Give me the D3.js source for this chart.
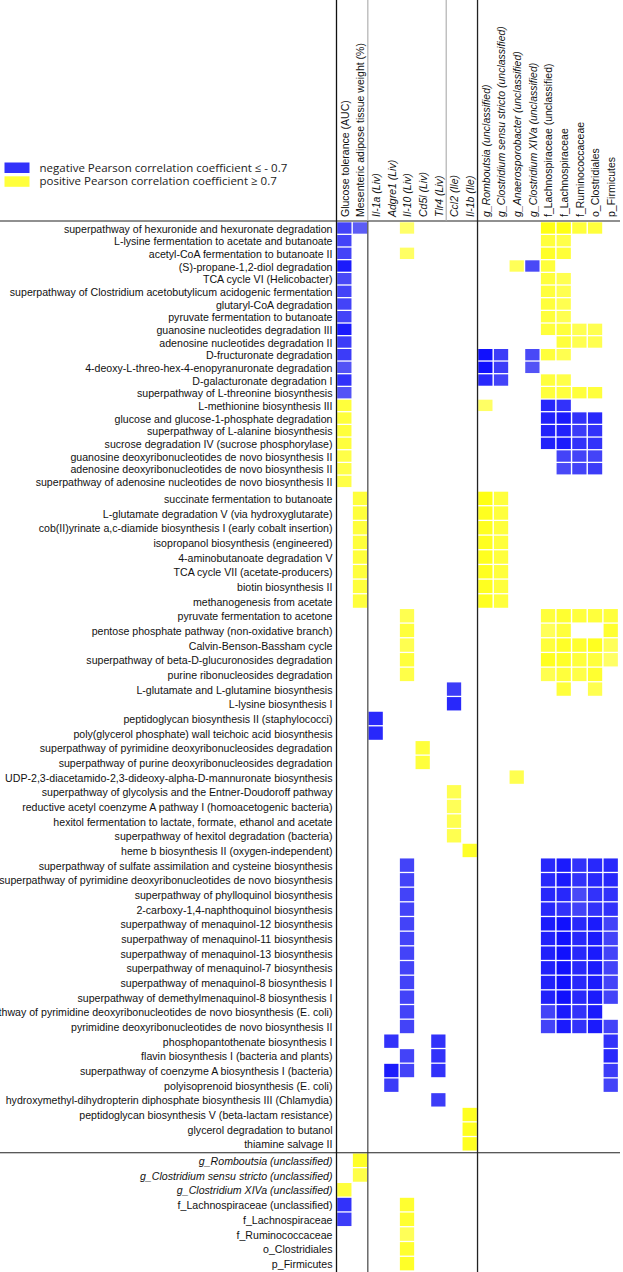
<!DOCTYPE html>
<html><head><meta charset="utf-8">
<script src="https://cdn.jsdelivr.net/npm/d3@7/dist/d3.min.js"></script>
<style>body{margin:0;background:#fff}svg{display:block}</style>
</head><body>
<svg id="chart" width="623" height="1272"></svg>
<script>
// ---- data ----
const columns = [
  "Glucose tolerance (AUC)", "Mesenteric adipose tissue weight (%)",
  "Il-1a (Liv)", "Adgre1 (Liv)", "Il-10 (Liv)", "Cd5l (Liv)", "Tlr4 (Liv)",
  "Ccl2 (Ile)", "Il-1b (Ile)",
  "g_Romboutsia (unclassified)", "g_Clostridium sensu stricto (unclassified)",
  "g_Anaerosporobacter (unclassified)", "g_Clostridium XIVa (unclassified)",
  "f_Lachnospiraceae (unclassified)", "f_Lachnospiraceae", "f_Ruminococcaceae",
  "o_Clostridiales", "p_Firmicutes"
];
const columnItalic = [false,false,true,true,true,true,true,true,true,true,true,true,true,false,false,false,false,false];

const pathways = [
  "superpathway of hexuronide and hexuronate degradation",
  "L-lysine fermentation to acetate and butanoate",
  "acetyl-CoA fermentation to butanoate II",
  "(S)-propane-1,2-diol degradation",
  "TCA cycle VI (Helicobacter)",
  "superpathway of Clostridium acetobutylicum acidogenic fermentation",
  "glutaryl-CoA degradation",
  "pyruvate fermentation to butanoate",
  "guanosine nucleotides degradation III",
  "adenosine nucleotides degradation II",
  "D-fructuronate degradation",
  "4-deoxy-L-threo-hex-4-enopyranuronate degradation",
  "D-galacturonate degradation I",
  "superpathway of L-threonine biosynthesis",
  "L-methionine biosynthesis III",
  "glucose and glucose-1-phosphate degradation",
  "superpathway of L-alanine biosynthesis",
  "sucrose degradation IV (sucrose phosphorylase)",
  "guanosine deoxyribonucleotides de novo biosynthesis II",
  "adenosine deoxyribonucleotides de novo biosynthesis II",
  "superpathway of adenosine nucleotides de novo biosynthesis II",
  "succinate fermentation to butanoate",
  "L-glutamate degradation V (via hydroxyglutarate)",
  "cob(II)yrinate a,c-diamide biosynthesis I (early cobalt insertion)",
  "isopropanol biosynthesis (engineered)",
  "4-aminobutanoate degradation V",
  "TCA cycle VII (acetate-producers)",
  "biotin biosynthesis II",
  "methanogenesis from acetate",
  "pyruvate fermentation to acetone",
  "pentose phosphate pathway (non-oxidative branch)",
  "Calvin-Benson-Bassham cycle",
  "superpathway of beta-D-glucuronosides degradation",
  "purine ribonucleosides degradation",
  "L-glutamate and L-glutamine biosynthesis",
  "L-lysine biosynthesis I",
  "peptidoglycan biosynthesis II (staphylococci)",
  "poly(glycerol phosphate) wall teichoic acid biosynthesis",
  "superpathway of pyrimidine deoxyribonucleosides degradation",
  "superpathway of purine deoxyribonucleosides degradation",
  "UDP-2,3-diacetamido-2,3-dideoxy-alpha-D-mannuronate biosynthesis",
  "superpathway of glycolysis and the Entner-Doudoroff pathway",
  "reductive acetyl coenzyme A pathway I (homoacetogenic bacteria)",
  "hexitol fermentation to lactate, formate, ethanol and acetate",
  "superpathway of hexitol degradation (bacteria)",
  "heme b biosynthesis II (oxygen-independent)",
  "superpathway of sulfate assimilation and cysteine biosynthesis",
  "superpathway of pyrimidine deoxyribonucleotides de novo biosynthesis",
  "superpathway of phylloquinol biosynthesis",
  "2-carboxy-1,4-naphthoquinol biosynthesis",
  "superpathway of menaquinol-12 biosynthesis",
  "superpathway of menaquinol-11 biosynthesis",
  "superpathway of menaquinol-13 biosynthesis",
  "superpathway of menaquinol-7 biosynthesis",
  "superpathway of menaquinol-8 biosynthesis I",
  "superpathway of demethylmenaquinol-8 biosynthesis I",
  "superpathway of pyrimidine deoxyribonucleotides de novo biosynthesis (E. coli)",
  "pyrimidine deoxyribonucleotides de novo biosynthesis II",
  "phosphopantothenate biosynthesis I",
  "flavin biosynthesis I (bacteria and plants)",
  "superpathway of coenzyme A biosynthesis I (bacteria)",
  "polyisoprenoid biosynthesis (E. coli)",
  "hydroxymethyl-dihydropterin diphosphate biosynthesis III (Chlamydia)",
  "peptidoglycan biosynthesis V (beta-lactam resistance)",
  "glycerol degradation to butanol",
  "thiamine salvage II"
];

// sparse correlations per pathway row: [columnIndex, r]
const pathwayCorr = [
  [[0,-0.8],[1,-0.72],[4,0.74],[13,0.95],[14,0.95],[15,0.85],[16,0.85]],
  [[0,-0.8],[13,0.85],[14,0.82]],
  [[0,-0.8],[4,0.75],[13,0.9],[14,0.86]],
  [[0,-0.92],[11,0.78],[12,-0.78],[13,0.85]],
  [[0,-0.78],[13,0.85],[14,0.8]],
  [[0,-0.8],[13,0.85],[14,0.8]],
  [[0,-0.8],[13,0.85],[14,0.8]],
  [[0,-0.8],[13,0.85],[14,0.8]],
  [[0,-0.92],[13,0.85],[14,0.85],[15,0.8],[16,0.8]],
  [[0,-0.82],[14,0.85],[15,0.8],[16,0.8]],
  [[0,-0.82],[9,-0.95],[10,-0.82],[12,-0.78],[13,0.85],[14,0.8]],
  [[0,-0.75],[9,-0.95],[10,-0.82],[12,-0.75]],
  [[0,-0.85],[9,-0.88],[10,-0.8],[13,0.85],[14,0.82]],
  [[0,-0.75],[13,0.85],[14,0.85],[15,0.85],[16,0.85]],
  [[0,0.85],[9,0.75],[13,-0.88],[14,-0.85]],
  [[0,0.85],[13,-0.9],[14,-0.92],[15,-0.85],[16,-0.88]],
  [[0,0.85],[13,-0.9],[14,-0.9],[15,-0.82],[16,-0.85]],
  [[0,0.85],[13,-0.9],[14,-0.92],[15,-0.85],[16,-0.85]],
  [[0,0.82],[14,-0.8],[15,-0.8],[16,-0.8]],
  [[0,0.82],[14,-0.78],[15,-0.8],[16,-0.82]],
  [[0,0.82]],
  [[1,0.85],[9,0.95],[10,0.85]],
  [[1,0.85],[9,0.92],[10,0.85]],
  [[1,0.85],[9,0.92],[10,0.85]],
  [[1,0.85],[9,0.92],[10,0.85]],
  [[1,0.85],[9,0.92],[10,0.85]],
  [[1,0.85],[9,0.92],[10,0.85]],
  [[1,0.85],[9,0.92],[10,0.85]],
  [[1,0.85],[9,0.92],[10,0.85]],
  [[4,0.8],[13,0.85],[14,0.88],[15,0.85],[16,0.85],[17,0.85]],
  [[4,0.85],[13,0.78],[14,0.85],[17,0.88]],
  [[4,0.8],[13,0.85],[14,0.9],[15,0.88],[16,0.92],[17,0.78]],
  [[4,0.85],[13,0.92],[14,0.9],[15,0.85],[16,0.85],[17,0.75]],
  [[4,0.82],[13,0.8],[14,0.85],[15,0.82],[16,0.88]],
  [[7,-0.82],[14,0.85],[16,0.8]],
  [[7,-0.88]],
  [[2,-0.88]],
  [[2,-0.88]],
  [[5,0.85]],
  [[5,0.85]],
  [[11,0.8]],
  [[7,0.8]],
  [[7,0.78]],
  [[7,0.8]],
  [[7,0.8]],
  [[8,0.9]],
  [[4,-0.8],[13,-0.88],[14,-0.92],[15,-0.85],[16,-0.88],[17,-0.88]],
  [[4,-0.8],[13,-0.88],[14,-0.92],[15,-0.85],[16,-0.88],[17,-0.88]],
  [[4,-0.8],[13,-0.88],[14,-0.88],[15,-0.78],[16,-0.85],[17,-0.85]],
  [[4,-0.8],[13,-0.88],[14,-0.85],[15,-0.8],[16,-0.85],[17,-0.85]],
  [[4,-0.8],[13,-0.92],[14,-0.95],[15,-0.88],[16,-0.92],[17,-0.8]],
  [[4,-0.8],[13,-0.9],[14,-0.95],[15,-0.88],[16,-0.92],[17,-0.8]],
  [[4,-0.8],[13,-0.9],[14,-0.95],[15,-0.88],[16,-0.92],[17,-0.8]],
  [[4,-0.8],[13,-0.9],[14,-0.95],[15,-0.88],[16,-0.92],[17,-0.8]],
  [[4,-0.8],[13,-0.9],[14,-0.95],[15,-0.88],[16,-0.92],[17,-0.8]],
  [[4,-0.8],[13,-0.9],[14,-0.95],[15,-0.88],[16,-0.92],[17,-0.8]],
  [[4,-0.8],[13,-0.8],[14,-0.92],[15,-0.85],[16,-0.92]],
  [[4,-0.8],[13,-0.8],[14,-0.92],[15,-0.85],[16,-0.92],[17,-0.8]],
  [[3,-0.85],[6,-0.85],[17,-0.85]],
  [[4,-0.8],[6,-0.85],[17,-0.88]],
  [[3,-0.92],[4,-0.8],[6,-0.85],[17,-0.82]],
  [[3,-0.82],[17,-0.8]],
  [[6,-0.82]],
  [[8,0.92]],
  [[8,0.92]],
  [[8,0.92]]
];

const taxa = [
  "g_Romboutsia (unclassified)",
  "g_Clostridium sensu stricto (unclassified)",
  "g_Clostridium XIVa (unclassified)",
  "f_Lachnospiraceae (unclassified)",
  "f_Lachnospiraceae",
  "f_Ruminococcaceae",
  "o_Clostridiales",
  "p_Firmicutes"
];
const taxaItalic = [true,true,true,false,false,false,false,false];
const taxaCorr = [
  [[1,0.9]],
  [[1,0.82]],
  [[0,0.85]],
  [[0,-0.85],[4,0.88]],
  [[0,-0.82],[4,0.88]],
  [[4,0.78]],
  [[4,0.88]],
  [[4,0.9]]
];

const legendItems = [
  {label: "negative Pearson correlation coefficient \u2264 - 0.7", r: -0.85},
  {label: "positive Pearson correlation coefficient \u2265  0.7", r: 0.85}
];

// ---- drawing ----
const svg = d3.select("#chart");
const W = 623, H = 1272;
const labelFont = "'Liberation Sans', Arial, sans-serif";

const x = d3.scaleBand().domain(d3.range(columns.length)).range([336.5, 336.5 + 18 * 15.67]);
const yA = d3.scaleBand().domain(d3.range(0, 21)).range([221.7, 221.7 + 21 * 12.67]);
const yB = d3.scaleBand().domain(d3.range(21, pathways.length)).range([491.1, 491.1 + 45 * 14.67]);
const yT = d3.scaleBand().domain(d3.range(taxa.length)).range([1152.9, 1152.9 + 8 * 14.77]);

function rowScale(i) { return i < 21 ? yA : yB; }

const negColor = d3.scaleLinear().domain([0.7, 1]).range(["#6464f4", "#0000ff"]).interpolate(d3.interpolateRgb).clamp(true);
const posColor = d3.scaleLinear().domain([0.7, 1]).range(["#ffff78", "#ffff00"]).interpolate(d3.interpolateRgb).clamp(true);
const color = r => r < 0 ? negColor(-r) : posColor(r);

// rows
const rows = [];
pathways.forEach((name, i) => {
  const s = rowScale(i);
  rows.push({name, italic: false, y: s(i), h: s.bandwidth(), cells: pathwayCorr[i]});
});
taxa.forEach((name, i) => {
  rows.push({name, italic: taxaItalic[i], y: yT(i), h: yT.bandwidth(), cells: taxaCorr[i]});
});

const cellData = [];
rows.forEach(r => r.cells.forEach(([c, v]) => cellData.push({y: r.y, h: r.h, c, v})));

svg.append("g").selectAll("rect").data(cellData).join("rect")
  .attr("x", d => x(d.c) + 0.7)
  .attr("width", x.bandwidth() - 1.4)
  .attr("y", d => d.y + 0.6)
  .attr("height", d => d.h - 1.3)
  .attr("fill", d => color(d.v));

// row labels
svg.append("g").selectAll("text").data(rows).join("text")
  .attr("x", 332.5)
  .attr("y", d => d.y + d.h / 2 + 0.5)
  .attr("text-anchor", "end")
  .attr("dominant-baseline", "central")
  .attr("font-family", labelFont)
  .attr("font-size", "10.6px")
  .attr("font-style", d => d.italic ? "italic" : "normal")
  .attr("fill", "#111")
  .text(d => d.name);

// column labels
svg.append("g").selectAll("text").data(columns).join("text")
  .attr("transform", (d, i) => `translate(${x(i) + x.bandwidth() / 2 + 0.5},217) rotate(-90)`)
  .attr("dy", "0.36em")
  .attr("font-family", labelFont)
  .attr("font-size", "10.5px")
  .attr("font-style", (d, i) => columnItalic[i] ? "italic" : "normal")
  .attr("fill", "#111")
  .text(d => d);

// grid lines
const lines = svg.append("g").attr("fill", "none");
const topY = 221, sepY = 1152.7;
lines.append("line").attr("x1", 0).attr("x2", 620).attr("y1", topY).attr("y2", topY).attr("stroke", "#222").attr("stroke-width", 1.1);
lines.append("line").attr("x1", 0).attr("x2", 620).attr("y1", sepY).attr("y2", sepY).attr("stroke", "#222").attr("stroke-width", 1.1);
const xl = i => x(i); // left boundary of a column
lines.append("line").attr("x1", xl(0)).attr("x2", xl(0)).attr("y1", 0).attr("y2", H).attr("stroke", "#111").attr("stroke-width", 1.3);
lines.append("line").attr("x1", xl(2)).attr("x2", xl(2)).attr("y1", 0).attr("y2", topY).attr("stroke", "#aaa").attr("stroke-width", 1.1);
lines.append("line").attr("x1", xl(2)).attr("x2", xl(2)).attr("y1", topY).attr("y2", H).attr("stroke", "#333").attr("stroke-width", 1.1);
lines.append("line").attr("x1", xl(7)).attr("x2", xl(7)).attr("y1", 0).attr("y2", topY).attr("stroke", "#aaa").attr("stroke-width", 1.1);
lines.append("line").attr("x1", xl(9)).attr("x2", xl(9)).attr("y1", 0).attr("y2", H).attr("stroke", "#222").attr("stroke-width", 1.3);

// legend
const lg = svg.append("g");
legendItems.forEach((d, i) => {
  lg.append("rect").attr("x", 4.5).attr("y", 162.5 + i * 13.8).attr("width", 25).attr("height", 10.5).attr("fill", color(d.r));
  lg.append("text").attr("x", 39.5).attr("y", 171.5 + i * 13.8)
    .attr("font-family", "'Open Sans', 'Noto Sans', sans-serif")
    .attr("font-size", "11.5px").attr("fill", "#222").text(d.label);
});
</script>
</body></html>
